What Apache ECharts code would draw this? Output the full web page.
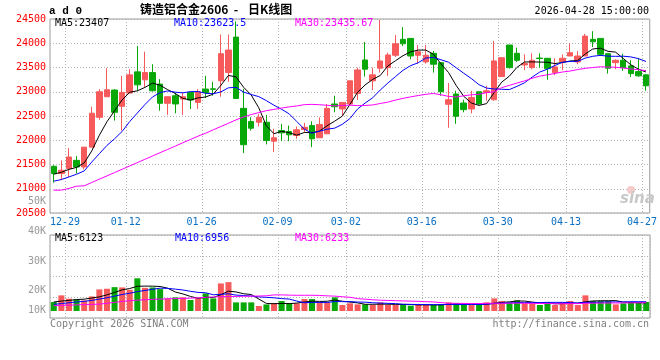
<!DOCTYPE html>
<html><head><meta charset="utf-8">
<script src="https://cdn.jsdelivr.net/npm/echarts@6/dist/echarts.min.js"></script>
<style>html,body{margin:0;padding:0;background:#fff}#c{width:660px;height:360px}</style>
</head><body><div id="c"></div>
<script>
const dates = ['12-25','12-26','12-29','12-30','12-31','01-05','01-06','01-07','01-08','01-09',
'01-12','01-13','01-14','01-15','01-16','01-19','01-20','01-21','01-22','01-23',
'01-26','01-27','01-28','01-29','01-30','02-02','02-03','02-04','02-05','02-06',
'02-09','02-10','02-11','02-12','02-13','02-24','02-25','02-26','02-27',
'03-02','03-03','03-04','03-05','03-06','03-09','03-10','03-11','03-12','03-13',
'03-16','03-17','03-18','03-19','03-20','03-23','03-24','03-25','03-26','03-27',
'03-30','03-31','04-01','04-02','04-03','04-07','04-08','04-09','04-10',
'04-13','04-14','04-15','04-16','04-17','04-20','04-21','04-22','04-23','04-24','04-27'];
const labelDates = ['12-29','01-12','01-26','02-09','03-02','03-16','03-30','04-13','04-27'];

const opens = [21463,21313,21416,21586,21449,21858,22473,22897,23035,22699,
22973,23410,23246,23395,23158,22762,22918,22850,22985,22780,
23055,23060,23225,23395,24127,22658,22385,22371,22371,21981,
22200,22180,22098,22221,22303,22051,22133,22748,22645,22748,
22965,23655,23225,23485,23498,23752,24080,24100,23752,23615,
23792,23600,22741,22953,22768,22645,23000,22985,22836,23313,
23963,23792,23553,23498,23695,23690,23395,23620,23737,23615,
23737,24080,24100,23785,23600,23649,23533,23416,23348];
const closes = [21313,21381,21654,21449,21858,22557,23000,23041,22576,22985,
23348,23143,23395,23020,22762,22897,22748,22897,22830,23000,
22985,23050,23785,23860,22862,21908,22248,22473,21996,22051,
22153,22112,22215,22268,22030,22324,22658,22692,22780,23225,
23450,23465,23348,23635,23758,23989,23990,23737,23826,23752,
23567,23000,22836,22494,22631,22883,22748,23020,23635,23702,
23498,23649,23580,23649,23685,23477,23512,23690,23805,23737,
24147,24030,23772,23485,23649,23498,23375,23328,23123];
const lows = [21125,21176,21244,21313,21402,21858,22420,22897,22405,22200,
22965,23020,23088,23006,22610,22522,22555,22522,22645,22645,
22870,22918,22897,23205,22862,21736,22200,22283,21914,21756,
21981,21981,22030,22166,21858,22051,22133,22576,22508,22713,
22830,23313,23035,23395,23328,23717,23942,23670,23580,23580,
23395,22918,22256,22338,22576,22555,22733,22815,22815,23313,
23477,23615,23444,23465,23498,23246,23342,23444,23737,23567,
23737,23922,23737,23375,23465,23430,23307,23307,23020];
const highs = [21484,21586,21838,21674,21858,22692,23055,23485,23055,23328,
23465,23942,23826,23567,23260,22897,22985,22985,23000,23055,
23328,23205,24182,24182,24450,23055,22473,22543,22522,22235,
22338,22303,22283,22358,22391,22473,22748,22918,22780,23225,
23498,24024,23498,24480,23805,24168,24332,24100,23963,23963,
23840,23600,23178,23020,22836,23020,23000,23123,24045,23702,
23963,23908,23772,23792,23792,23690,23690,23772,23998,23840,
24194,24250,24100,23785,23670,23785,23649,23690,23362];

const ma5 = [21300,21340,21400,21440,21531,21780,22104,22381,22606,22832,
22990,23019,23089,23178,23134,23043,22964,22865,22827,22874,
22892,22952,23130,23336,23308,23093,22933,22670,22297,22135,
22184,22157,22105,22160,22156,22190,22299,22394,22497,22736,
22985,23140,23254,23336,23531,23639,23744,23822,23860,23859,
23774,23576,23396,23130,22906,22769,22718,22755,22983,23198,
23321,23501,23613,23616,23612,23608,23581,23603,23634,23644,
23778,23882,23898,23834,23817,23687,23556,23467,23407];
const ma10 = [21156,21190,21244,21299,21367,21551,21723,21893,22030,22181,
22385,22561,22735,22892,22983,23017,22992,22977,23003,23004,
22968,22958,22997,23081,23091,22993,22943,22900,22817,22722,
22639,22545,22388,22229,22145,22187,22228,22250,22328,22446,
22642,22767,22875,23036,23179,23312,23442,23538,23598,23695,
23707,23660,23609,23495,23382,23272,23147,23076,23057,23052,
23045,23110,23184,23300,23405,23464,23541,23608,23625,23628,
23693,23731,23750,23734,23730,23733,23719,23683,23624];
const ma30 = [20971,20971,21006,21053,21060,21129,21197,21265,21334,21402,
21470,21539,21607,21675,21744,21811,21879,21949,22016,22084,
22145,22215,22283,22350,22420,22480,22530,22570,22610,22636,
22664,22688,22707,22734,22740,22732,22721,22709,22716,22724,
22715,22717,22728,22758,22786,22828,22864,22894,22922,22947,
22965,22938,22904,22892,22916,22937,22946,22981,23000,23085,
23131,23179,23223,23277,23322,23349,23377,23407,23426,23458,
23482,23500,23514,23509,23506,23489,23469,23455,23436];

const volumes = [6750,11800,9300,8800,8000,11000,16300,16800,18000,17800,
16000,24700,17500,17800,16500,9500,10300,10300,8300,9500,
13300,9500,20800,21800,6500,6500,6500,3750,5000,5800,
7500,5800,5800,9000,9000,6500,6500,10300,4500,5800,
5000,5000,4500,6500,4500,4500,5000,4000,5000,4500,
4500,5000,6500,5800,4500,4500,4500,6500,9500,7500,
6500,8000,5800,5800,4500,6500,4500,6500,7500,4500,
11800,7500,7500,7500,5000,5800,6500,6500,6800];
const vma5 = [6800,7500,8000,8600,8930,9780,10680,12180,14020,15980,
16980,18660,18800,18760,18500,17200,14320,12880,10980,9580,
10340,10180,12280,14980,14380,13020,12420,9010,5650,5510,
5710,5570,5980,6780,7420,7220,7360,8260,7360,6720,
6120,5060,5060,5200,5100,5000,5000,4900,4600,4600,
4600,4600,5100,5260,5260,5260,5160,5160,5900,6500,
6900,7600,7460,6720,6120,6120,5420,5560,5900,5900,
6960,7560,7760,7760,7860,6660,6460,6260,6123];
const vma10 = [5000,5600,6200,6800,7300,8000,9000,10000,11200,12455,
13380,14670,15490,16390,17240,17090,16490,15840,14870,14040,
13770,12250,12580,12980,11980,11680,11300,10645,10315,9945,
9365,8995,7495,6215,6465,6465,6465,7120,7070,7070,
6740,6660,6210,5960,5760,5560,5030,4980,4900,4850,
4800,4800,5000,4930,4930,4930,4880,5130,5580,5880,
6080,6380,6310,6310,6310,6510,6510,6510,6310,6010,
6540,6490,6660,6830,6880,6810,7010,7010,6956];
const vma30 = [4000,4200,4400,4600,4800,5000,5200,5800,6500,7200,
7800,8200,8500,8800,9000,9200,9400,9500,9700,9900,
10300,10600,10800,10900,11000,11100,11200,11300,11500,12147,
12172,11972,11855,11862,11895,11745,11418,11202,10752,10352,
9328,8912,8468,8135,7968,7775,7598,7455,7305,7012,
6845,6318,5808,5785,5718,5652,5677,5727,5850,5850,
5873,5947,5840,5733,5667,5667,5473,5540,5597,5580,
5807,5890,5990,6023,6040,6083,6133,6217,6233];

const priceLegend = ['MA5:23407','MA10:23623.5','MA30:23435.67'];
const volLegend = ['MA5:6123','MA10:6956','MA30:6233'];
const volTickLabels = ['50K','40K','30K','20K','10K'];

const UP = '#f75a5a', DOWN = '#08a808';
const MONO = '"DejaVu Sans Mono", monospace';
const candleData = opens.map((o, i) => [o, closes[i], lows[i], highs[i]]);
const volData = volumes.map((v, i) => ({value: v, itemStyle: {color: closes[i] > opens[i] ? UP : DOWN}}));
const isLabel = (idx, val) => labelDates.indexOf(val) >= 0;
const dotted = {color: '#b4b4b4', width: 1, type: [1, 2]};

const chart = echarts.init(document.getElementById('c'), null, {width: 660, height: 360});
const volTickY = [201, 231, 261, 290, 310];
const txt = (text, x, y, fill, align, font) => ({type: 'text', x, y, silent: true, z: 100,
  style: {text, fill, font: font || ('10px ' + MONO), align: align || 'left', verticalAlign: 'middle'}});

chart.setOption({
  animation: false,
  backgroundColor: '#fff',
  grid: [
    {left: 50, right: 10, top: 19, height: 194, show: true, borderColor: '#9a9a9a', borderWidth: 1},
    {left: 50, right: 10, top: 235, height: 83, show: true, borderColor: '#9a9a9a', borderWidth: 1}
  ],
  xAxis: [
    {type: 'category', gridIndex: 0, data: dates, boundaryGap: true,
     axisLine: {show: false}, axisTick: {show: false},
     axisLabel: {interval: isLabel, color: '#0a6fc2', fontFamily: MONO, fontSize: 10, margin: 4, padding: [0, 8, 0, 0]},
     splitLine: {show: true, interval: isLabel, lineStyle: dotted}},
    {type: 'category', gridIndex: 1, data: dates, boundaryGap: true,
     axisLine: {show: false}, axisTick: {show: false}, axisLabel: {show: false},
     splitLine: {show: true, interval: isLabel, lineStyle: dotted}}
  ],
  yAxis: [
    {type: 'value', gridIndex: 0, min: 20500, max: 24500, interval: 500,
     axisLine: {show: false}, axisTick: {show: false},
     axisLabel: {color: '#ff0000', fontFamily: MONO, fontSize: 10, margin: 4, formatter: v => String(v)},
     splitLine: {show: true, lineStyle: dotted}},
    {type: 'value', gridIndex: 1, min: -5300, max: 57400, show: false},
    {type: 'value', gridIndex: 1, min: 0, max: 4, interval: 1,
     axisLine: {show: false}, axisTick: {show: false}, axisLabel: {show: false},
     splitLine: {show: true, lineStyle: dotted}}
  ],
  series: [
    {type: 'candlestick', xAxisIndex: 0, yAxisIndex: 0, data: candleData, barWidth: 6,
     itemStyle: {color: UP, color0: DOWN, borderColor: UP, borderColor0: DOWN, borderWidth: 1}, z: 2},
    {type: 'line', xAxisIndex: 0, yAxisIndex: 0, data: ma5, symbol: 'none', lineStyle: {color: '#000', width: 1}, z: 3, silent: true},
    {type: 'line', xAxisIndex: 0, yAxisIndex: 0, data: ma10, symbol: 'none', lineStyle: {color: '#0000ff', width: 1}, z: 3, silent: true},
    {type: 'line', xAxisIndex: 0, yAxisIndex: 0, data: ma30, symbol: 'none', lineStyle: {color: '#ff00ff', width: 1}, z: 3, silent: true},
    {type: 'bar', xAxisIndex: 1, yAxisIndex: 1, data: volData, barWidth: 6, z: 2},
    {type: 'line', xAxisIndex: 1, yAxisIndex: 1, data: vma5, symbol: 'none', lineStyle: {color: '#000', width: 1}, z: 3, silent: true},
    {type: 'line', xAxisIndex: 1, yAxisIndex: 1, data: vma10, symbol: 'none', lineStyle: {color: '#0000ff', width: 1}, z: 3, silent: true},
    {type: 'line', xAxisIndex: 1, yAxisIndex: 1, data: vma30, symbol: 'none', lineStyle: {color: '#ff00ff', width: 1}, z: 3, silent: true}
  ],
  graphic: [
    txt('a d 0', 49, 11, '#000', 'left', 'bold 11px "Liberation Mono"'),
    txt('铸造铝合金2606', 140, 9, '#000', 'left', 'bold 12px "Noto Sans CJK SC"'),
    txt('-', 236, 9, '#000', 'center', 'bold 12px "Noto Sans CJK SC"'),
    txt('日K线图', 248, 9, '#000', 'left', 'bold 12px "Noto Sans CJK SC"'),
    txt('2026-04-28 15:00:00', 649, 11.5, '#000', 'right'),
    txt(priceLegend[0], 55, 23.5, '#000'),
    txt(priceLegend[1], 174, 23.5, '#0000ff'),
    txt(priceLegend[2], 295, 23.5, '#ff00ff'),
    txt(volLegend[0], 55, 238.5, '#000'),
    txt(volLegend[1], 175, 238.5, '#0000ff'),
    txt(volLegend[2], 295, 238.5, '#ff00ff'),
    ...volTickLabels.map((t, k) => txt(t, 46, volTickY[k], '#999', 'right')),
    txt('Copyright 2026 SINA.COM', 50, 324, '#808080'),
    txt('http://finance.sina.com.cn', 649, 324, '#808080', 'right'),
    {type: 'circle', shape: {cx: 631, cy: 190, r: 4}, style: {fill: '#f5caca'}, silent: true, z: 1},
    txt('sina', 620, 199, '#c8c8c8', 'left', 'italic bold 15px "DejaVu Sans"')
  ]
});
</script></body></html>
